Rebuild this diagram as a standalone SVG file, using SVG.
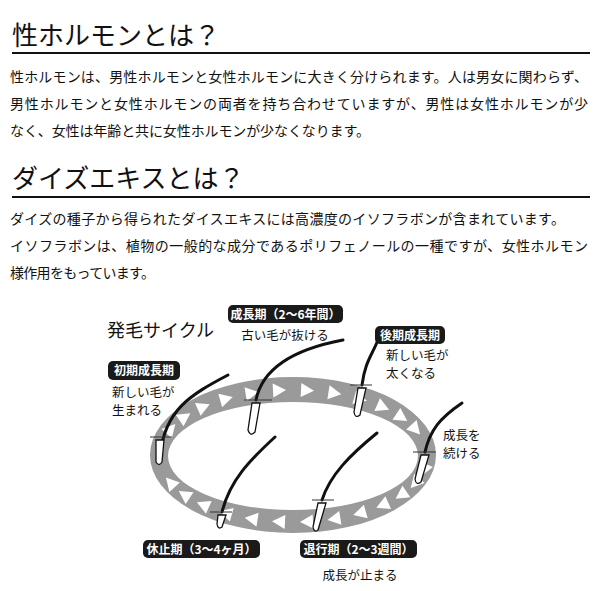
<svg xmlns="http://www.w3.org/2000/svg" width="600" height="591" viewBox="0 0 600 591">
<style>
text{font-family:"Noto Sans CJK JP",sans-serif;fill:#111}
.h{font-size:26px}
.b{font-size:14px}
.l{font-size:12.5px}
.tag{font-size:12px;font-weight:bold;fill:#fff}
.box{fill:#1a1a1a}
.hair{fill:none;stroke:#111;stroke-width:3;stroke-linecap:round}
.bulb{fill:#fff;stroke:#111;stroke-width:1.3}
.cb{stroke:#333;stroke-width:1}
</style>
<defs>
<polygon id="tri" points="-6,-7 7,0 -6,7" fill="#fff"/>
</defs>
<rect width="600" height="591" fill="#fff"/>
<g id="sec1">
<text class="h" x="12" y="45">性ホルモンとは？</text>
<line x1="12" y1="53" x2="590" y2="53" stroke="#111" stroke-width="2"/>
<text class="b" x="10" y="82" textLength="578">性ホルモンは、男性ホルモンと女性ホルモンに大きく分けられます。人は男女に関わらず、</text>
<text class="b" x="10" y="109" textLength="578">男性ホルモンと女性ホルモンの両者を持ち合わせていますが、男性は女性ホルモンが少</text>
<text class="b" x="10" y="136" textLength="360">なく、女性は年齢と共に女性ホルモンが少なくなります。</text>
</g>
<g id="sec2">
<text class="h" x="12" y="188">ダイズエキスとは？</text>
<line x1="12" y1="197" x2="590" y2="197" stroke="#111" stroke-width="2"/>
<text class="b" x="10" y="224" textLength="555">ダイズの種子から得られたダイスエキスには高濃度のイソフラボンが含まれています。</text>
<text class="b" x="10" y="251" textLength="578">イソフラボンは、植物の一般的な成分であるポリフェノールの一種ですが、女性ホルモン</text>
<text class="b" x="10" y="278" textLength="145">様作用をもっています。</text>
</g>
<g id="ring">
<path fill="#9a9a9a" fill-rule="evenodd" d="M150,455 a143,78 0 1,0 286,0 a143,78 0 1,0 -286,0 Z M168,456 a125,54 0 1,0 250,0 a125,54 0 1,0 -250,0 Z"/>
<use href="#tri" transform="translate(424.1,469.7) rotate(113.4)"/>
<use href="#tri" transform="translate(415.4,482.8) rotate(132.1)"/>
<use href="#tri" transform="translate(401.4,494.8) rotate(145.9)"/>
<use href="#tri" transform="translate(382.7,505) rotate(156.1)"/>
<use href="#tri" transform="translate(360,513.2) rotate(164.1)"/>
<use href="#tri" transform="translate(334.4,518.8) rotate(170.9)"/>
<use href="#tri" transform="translate(307,521.7) rotate(177)"/>
<use href="#tri" transform="translate(279,521.7) rotate(183)"/>
<use href="#tri" transform="translate(251.6,518.8) rotate(189.1)"/>
<use href="#tri" transform="translate(226,513.2) rotate(195.9)"/>
<use href="#tri" transform="translate(203.3,505) rotate(203.9)"/>
<use href="#tri" transform="translate(184.6,494.8) rotate(214.1)"/>
<use href="#tri" transform="translate(170.6,482.8) rotate(227.9)"/>
<use href="#tri" transform="translate(170.6,429.2) rotate(312.1)"/>
<use href="#tri" transform="translate(184.6,417.2) rotate(325.9)"/>
<use href="#tri" transform="translate(203.3,407) rotate(336.1)"/>
<use href="#tri" transform="translate(226,398.8) rotate(344.1)"/>
<use href="#tri" transform="translate(251.6,393.2) rotate(350.9)"/>
<use href="#tri" transform="translate(279,390.3) rotate(357)"/>
<use href="#tri" transform="translate(307,390.3) rotate(3)"/>
<use href="#tri" transform="translate(334.4,393.2) rotate(9.1)"/>
<use href="#tri" transform="translate(360,398.8) rotate(15.9)"/>
<use href="#tri" transform="translate(382.7,407) rotate(23.9)"/>
<use href="#tri" transform="translate(401.4,417.2) rotate(34.1)"/>
<use href="#tri" transform="translate(415.4,429.2) rotate(47.9)"/>
</g>
<g id="hairs">
<path class="hair" d="M228,375 C190,395 165,410 160,455"/>
<path class="bulb" d="M156,440 L164,440 L162,462 Q159,467 156,462 Z"/>
<line class="cb" x1="150" y1="437" x2="172" y2="437"/>
<path class="hair" d="M343,340 C290,350 262,370 256,400"/>
<path class="bulb" d="M252,403 L260,403 L255,432 Q250,437 248,430 Z"/>
<line class="cb" x1="244" y1="400" x2="272" y2="400"/>
<path class="hair" d="M378,340 C372,355 365,362 362,385"/>
<path class="bulb" d="M358,388 L366,388 L360,415 Q355,419 354,412 Z"/>
<line class="cb" x1="350" y1="385" x2="372" y2="385"/>
<path class="hair" d="M462,403 C440,418 430,430 425,452"/>
<path class="bulb" d="M421,455 L429,455 L421,482 Q416,486 415,479 Z"/>
<line class="cb" x1="413" y1="452" x2="436" y2="452"/>
<path class="hair" d="M275,437 C250,460 230,480 222,512"/>
<path class="bulb" d="M218,515 L226,515 L222,527 Q218,530 217,524 Z"/>
<line class="cb" x1="210" y1="512" x2="232" y2="512"/>
<path class="hair" d="M377,433 C350,455 330,475 322,500"/>
<path class="bulb" d="M318,503 L326,503 L318,530 Q314,533 313,527 Z"/>
<line class="cb" x1="312" y1="500" x2="334" y2="500"/>
</g>
<g id="title"><text x="107" y="337" font-size="18">発毛サイクル</text></g>
<g id="n1"><rect class="box" x="228" y="305" width="115" height="18" rx="5"/><text class="tag" x="285.5" y="319" text-anchor="middle">成長期（2〜6年間）</text>
<text class="l" x="285" y="340" text-anchor="middle">古い毛が抜ける</text></g>
<g id="n2"><rect class="box" x="375" y="326" width="70" height="18" rx="5"/><text class="tag" x="410" y="340" text-anchor="middle">後期成長期</text>
<text class="l" x="386" y="360">新しい毛が</text><text class="l" x="386" y="378">太くなる</text></g>
<g id="n3"><rect class="box" x="108" y="361" width="72" height="19" rx="5"/><text class="tag" x="144" y="375" text-anchor="middle">初期成長期</text>
<text class="l" x="112" y="397">新しい毛が</text><text class="l" x="112" y="415">生まれる</text></g>
<g id="n4"><text class="l" x="443" y="440">成長を</text><text class="l" x="443" y="458">続ける</text></g>
<g id="n5"><rect class="box" x="143" y="540" width="117" height="18" rx="5"/><text class="tag" x="201.5" y="554" text-anchor="middle">休止期（3〜4ヶ月）</text></g>
<g id="n6"><rect class="box" x="300" y="540" width="117" height="18" rx="5"/><text class="tag" x="358.5" y="554" text-anchor="middle">退行期（2〜3週間）</text>
<text class="l" x="360" y="580" text-anchor="middle">成長が止まる</text></g>
</svg>
